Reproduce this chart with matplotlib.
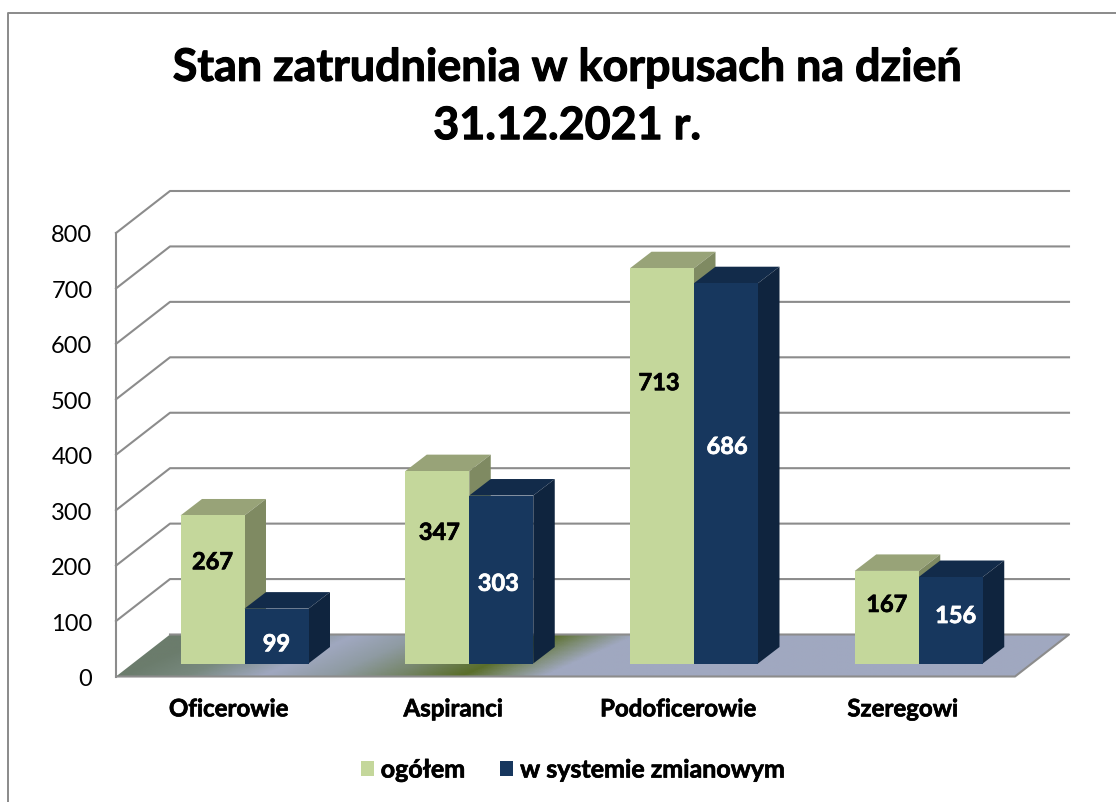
import numpy as np
import matplotlib
matplotlib.use("Agg")
import matplotlib.pyplot as plt
import matplotlib.patheffects as pe
from matplotlib.patches import Polygon, Patch
from matplotlib.colors import LinearSegmentedColormap

# Data
categories = ["Oficerowie", "Aspiranci", "Podoficerowie", "Szeregowi"]
ogolem = [267, 347, 713, 167]
zmianowy = [99, 303, 686, 156]
y_ticks = [0, 100, 200, 300, 400, 500, 600, 700, 800]

title = "Stan zatrudnienia w korpusach na dzień\n31.12.2021 r."
legend_labels = ["ogółem", "w systemie zmianowym"]

# Where the value labels sit: height in axis units, sideways nudge in pixels
label_y_ogolem = [207, 260, 530, 130]
label_y_zmianowy = [59, 168, 415, 110]
label_dx_ogolem = [0, 2, -3, 0]
label_dx_zmianowy = [0, -3, 1, 5]

# Colours (front, top, side)
green = ("#c4d79b", "#98a378", "#7f8a62")
navy = ("#17375e", "#122b4a", "#0f243e")
grid_color = "#8c8c8c"

plt.rcParams["font.family"] = ["Lato", "DejaVu Sans"]

W, H = 1116, 803
y0_px, y800_px = 677.5, 234
fig = plt.figure(figsize=(W / 100, H / 100), dpi=100)
ax = fig.add_axes([116 / W, 1 - y0_px / H, (1015 - 116) / W, (y0_px - y800_px) / H])
ax.set_xlim(0, 4)
ax.set_ylim(0, 800)

px_x = 4 / (1015 - 116)  # axis units per pixel
px_y = 800 / (y0_px - y800_px)

# Depth of the 3D box and of the bars
box_dx, box_dy = 54 * px_x, 42 * px_y
bar_dx, bar_dy = 21.5 * px_x, 16.5 * px_y
bar_w = 64 * px_x
bar_off = 64.5 * px_x
bar_base = 13 * px_y

bold = [pe.withStroke(linewidth=0.5, foreground="black")]
bold_white = [pe.withStroke(linewidth=0.5, foreground="white")]

# Walls and grid lines
for v in y_ticks[1:]:
    ax.plot([0, box_dx, 4 + box_dx], [v, v + box_dy, v + box_dy],
            color=grid_color, lw=1.5, clip_on=False, zorder=1)
ax.plot([0, 0], [0, 800], color=grid_color, lw=1.5, clip_on=False, zorder=1)

# Floor with the gradient running across it
floor_pts = [(0, 0), (4, 0), (4 + box_dx, box_dy), (box_dx, box_dy)]
floor_cmap = LinearSegmentedColormap.from_list("floor", [
    (0.00, "#6b7c6c"), (0.07, "#78897f"), (0.15, "#a0a8c0"), (0.22, "#8f9ba3"),
    (0.29, "#76866a"), (0.36, "#5a6e2a"), (0.40, "#7d8c72"), (0.447, "#a0a8c0"),
    (1.00, "#a0a8c0")])
xx, yy = np.meshgrid(np.linspace(0, 4 + box_dx, 500), np.linspace(0, box_dy, 60))
grad = xx / (4 + box_dx) - 0.0013 * yy
im = ax.imshow(grad, extent=(0, 4 + box_dx, 0, box_dy), origin="lower", aspect="auto",
               cmap=floor_cmap, vmin=0, vmax=1, zorder=2)
floor = Polygon(floor_pts, closed=True, facecolor="none", edgecolor="none",
                transform=ax.transData)
ax.add_patch(floor)
im.set_clip_box(fig.bbox)  # the floor runs past the right edge of the axes
im.set_clip_path(floor)
ax.plot([box_dx, 4 + box_dx, 4, 0], [box_dy, box_dy, 0, 0], color=grid_color,
        lw=1.5, clip_on=False, zorder=3)
ax.set_xlim(0, 4)
ax.set_ylim(0, 800)


def draw_bars(xs, values, colors, z):
    bars = ax.bar(xs, values, bar_w, bottom=bar_base, align="edge",
                  color=colors[0], linewidth=0, zorder=z + 0.2, clip_on=False)
    for x, v in zip(xs, values):
        top = v + bar_base
        ax.add_patch(Polygon([(x, top), (x + bar_w, top),
                              (x + bar_w + bar_dx, top + bar_dy), (x + bar_dx, top + bar_dy)],
                             facecolor=colors[1], linewidth=0, zorder=z, clip_on=False))
        ax.add_patch(Polygon([(x + bar_w, bar_base), (x + bar_w + bar_dx, bar_base + bar_dy),
                              (x + bar_w + bar_dx, top + bar_dy), (x + bar_w, top)],
                             facecolor=colors[2], linewidth=0, zorder=z, clip_on=False))
    return bars


idx = np.arange(len(categories))
draw_bars(idx + bar_off, ogolem, green, 4)
draw_bars(idx + bar_off + bar_w, zmianowy, navy, 5)

# Value labels
for i in idx:
    ax.text(i + bar_off + bar_w / 2 + label_dx_ogolem[i] * px_x, label_y_ogolem[i], str(ogolem[i]),
            ha="center", va="center", fontsize=17, fontweight="bold", color="black", zorder=8,
            path_effects=bold)
    ax.text(i + bar_off + bar_w * 1.5 + label_dx_zmianowy[i] * px_x, label_y_zmianowy[i], str(zmianowy[i]),
            ha="center", va="center", fontsize=17, fontweight="bold", color="white", zorder=8,
            path_effects=bold_white)

# Axes
for s in ax.spines.values():
    s.set_visible(False)
ax.patch.set_visible(False)
ax.set_yticks(y_ticks)
ax.set_xticks(idx + 0.5)
ax.set_xticklabels(categories, fontsize=17.3, fontweight="bold", path_effects=bold)
ax.tick_params(axis="y", length=0, pad=17, labelsize=17)
ax.tick_params(axis="x", length=0, pad=15)

# Title
fig.text(567 / W, 1 - 98 / H, title, ha="center", va="center", fontsize=32.3,
         fontweight="bold", linespacing=1.48, path_effects=[pe.withStroke(linewidth=0.8, foreground="black")])

# Legend
handles = [Patch(facecolor=green[0]), Patch(facecolor=navy[0])]
leg = fig.legend(handles, legend_labels, ncol=2, loc="center", bbox_to_anchor=(573 / W, 1 - 771 / H),
                 frameon=False, handlelength=0.52, handleheight=0.52, handletextpad=0.28,
                 columnspacing=1.4, prop={"size": 18, "weight": "bold"})
for t in leg.get_texts():
    t.set_path_effects(bold)

# Chart frame, only the top and left edges show
fig.add_artist(plt.Line2D([7.5 / W, 7.5 / W, 1], [0, 1 - 13.5 / H, 1 - 13.5 / H],
                          color="#8a8a8a", lw=1.4))

fig.savefig("out.png", dpi=100)
